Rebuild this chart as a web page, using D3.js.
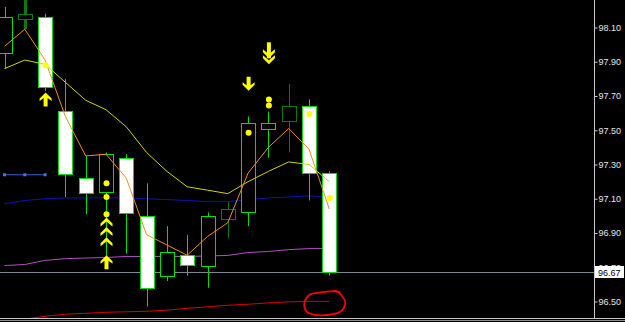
<!DOCTYPE html>
<html>
<head>
<meta charset="utf-8">
<script src="https://d3js.org/d3.v7.min.js"></script>
<style>
  body { margin: 0; background: #000; overflow: hidden; }
  svg { display: block; }
  .axis-label { font-family: 'Liberation Sans', sans-serif; font-size: 9px; fill: #e6e6e6; }
  .price-label { font-family: 'Liberation Sans', sans-serif; font-size: 9px; fill: #000; }
</style>
</head>
<body>
<div id="chart"></div>
<script>
// 17 bars, oldest first
var opens  = [97.95, 98.15, 98.16, 97.61, 97.22, 97.14, 97.34, 97.00, 96.65, 96.77, 96.71, 96.98, 97.02, 97.51, 97.55, 97.64, 97.25];
var highs  = [98.22, 98.30, 98.18, 97.80, 97.35, 97.37, 97.36, 97.19, 96.94, 96.89, 97.02, 97.08, 97.58, 97.61, 97.77, 97.68, 97.26];
var lows   = [97.86, 98.09, 97.73, 97.11, 97.01, 96.76, 96.78, 96.47, 96.62, 96.65, 96.58, 96.87, 96.94, 97.34, 97.37, 97.09, 96.65];
var closes = [98.16, 98.18, 97.75, 97.24, 97.13, 97.36, 97.02, 96.58, 96.79, 96.71, 97.00, 97.04, 97.54, 97.545, 97.64, 97.25, 96.67];

// moving averages, one value per bar
var maFast   = [97.99, 98.09, 97.91, 97.58, 97.35, 97.36, 97.22, 96.89, 96.83, 96.77, 96.88, 96.96, 97.25, 97.40, 97.51, 97.39, 97.04];
var maMid    = [97.86, 97.91, 97.885, 97.78, 97.675, 97.62, 97.52, 97.37, 97.26, 97.17, 97.15, 97.13, 97.20, 97.26, 97.315, 97.30, 97.20];
var maSlow   = [97.07, 97.09, 97.10, 97.105, 97.105, 97.105, 97.105, 97.10, 97.095, 97.09, 97.083, 97.083, 97.095, 97.105, 97.11, 97.117, 97.11];
var maLong   = [96.71, 96.716, 96.74, 96.75, 96.754, 96.757, 96.763, 96.763, 96.763, 96.763, 96.766, 96.769, 96.786, 96.792, 96.803, 96.809, 96.809];
var maLonger = [96.38, 96.397, 96.414, 96.426, 96.431, 96.437, 96.44, 96.443, 96.449, 96.46, 96.469, 96.478, 96.484, 96.492, 96.498, 96.501, 96.501];
var levelLine = [97.24, 97.24, 97.24];   // short dotted level, bars 0..2

// signal markers: [bar, price]
var sigDots     = [[2, 97.88], [5, 97.19], [5, 97.11], [5, 97.01], [12, 97.485], [13, 97.68], [13, 97.645], [15, 97.595], [16, 97.105]];
var upArrows    = [[2, 97.72], [5, 96.77]];
var upChevrons  = [[5, 96.99], [5, 96.935], [5, 96.875]];
var downArrows  = [[12, 97.73]];
var downDoubles = [[13, 97.885]];

var axisTicks = [96.50, 96.70, 96.90, 97.10, 97.30, 97.50, 97.70, 97.90, 98.10];

var W = 625, H = 322, plotRight = 594, plotBottom = 318;

var svg = d3.select("#chart").append("svg").attr("width", W).attr("height", H);
svg.append("rect").attr("width", W).attr("height", H).attr("fill", "#000");

var x = d3.scaleLinear().domain([0, 16]).range([4.5, 329.3]);
var y = d3.scaleLinear().domain([96.50, 98.10]).range([301.5, 27.5]);

svg.append("clipPath").attr("id", "plot")
  .append("rect").attr("width", plotRight).attr("height", plotBottom);

var plot = svg.append("g").attr("clip-path", "url(#plot)");

// bars with a darker outline
var barStyle = { 1: { color: "#0b7a0b", wick: 3 }, 11: { color: "#0b7a0b" }, 14: { color: "#0b7a0b" } };

var bars = opens.map(function(o, i) {
  return { i: i, o: o, h: highs[i], l: lows[i], c: closes[i] };
});

// current price line
var lastY = Math.round(y(closes[closes.length - 1])) + 0.5;
plot.append("line")
  .attr("x1", 0).attr("x2", plotRight)
  .attr("y1", lastY).attr("y2", lastY)
  .attr("stroke", "#7a8898").attr("stroke-width", 1);

var line = d3.line().x(function(d, i) { return x(i); }).y(function(d) { return y(d); });

plot.append("path").datum(maLonger).attr("d", line)
  .attr("fill", "none").attr("stroke", "#d80000").attr("stroke-width", 1);
plot.append("path").datum(maLong).attr("d", line)
  .attr("fill", "none").attr("stroke", "#b050c0").attr("stroke-width", 1);
plot.append("path").datum(maSlow).attr("d", line)
  .attr("fill", "none").attr("stroke", "#0a14b4").attr("stroke-width", 1);

// dotted level with square markers
plot.append("path").datum(levelLine).attr("d", line)
  .attr("fill", "none").attr("stroke", "#3a62d0").attr("stroke-width", 1);
plot.selectAll(".lvl").data(levelLine).enter().append("rect")
  .attr("x", function(d, i) { return x(i) - 1.5; })
  .attr("y", function(d) { return y(d) - 1.5; })
  .attr("width", 3).attr("height", 3).attr("fill", "#4a72e0");

// candles
var cg = plot.selectAll(".bar").data(bars).enter().append("g");
cg.append("line")
  .attr("x1", function(d) { return Math.round(x(d.i)) + 0.5; })
  .attr("x2", function(d) { return Math.round(x(d.i)) + 0.5; })
  .attr("y1", function(d) { return y(d.h); })
  .attr("y2", function(d) { return y(d.l); })
  .attr("stroke", function(d) { return barStyle[d.i] ? barStyle[d.i].color : "#00e000"; })
  .attr("stroke-width", function(d) { return barStyle[d.i] && barStyle[d.i].wick ? barStyle[d.i].wick : 1; });
cg.append("rect")
  .attr("x", function(d) { return Math.round(x(d.i)) - 6.5; })
  .attr("y", function(d) { return Math.round(y(Math.max(d.o, d.c))) + 0.5; })
  .attr("width", 14)
  .attr("height", function(d) { return Math.max(1, Math.round(Math.abs(y(d.o) - y(d.c)))); })
  .attr("fill", function(d) { return d.c < d.o ? "#fff" : "#000"; })
  .attr("stroke", function(d) { return barStyle[d.i] ? barStyle[d.i].color : "#00e000"; })
  .attr("stroke-width", 1);

// faster averages on top of the candles
plot.append("path").datum(maMid).attr("d", line)
  .attr("fill", "none").attr("stroke", "#d2d200").attr("stroke-width", 1);
plot.append("path").datum(maFast).attr("d", line)
  .attr("fill", "none").attr("stroke", "#e8901e").attr("stroke-width", 1);

// signals
var yellow = "#ffff00";
plot.selectAll(".dot").data(sigDots).enter().append("circle")
  .attr("cx", function(d) { return x(d[0]) + 0.5; })
  .attr("cy", function(d) { return y(d[1]); })
  .attr("r", 3).attr("fill", yellow);

var upArrowPath = "M0,0 L6,6 L6,8.5 L2,5.5 L2,14 L-2,14 L-2,5.5 L-6,8.5 L-6,6 Z";
var chevronUp = "M0,0 L6,6 L6,9 L0,4 L-6,9 L-6,6 Z";

plot.selectAll(".uparr").data(upArrows).enter().append("path")
  .attr("transform", function(d) { return "translate(" + (x(d[0]) + 0.5) + "," + y(d[1]) + ")"; })
  .attr("d", upArrowPath).attr("fill", yellow);
plot.selectAll(".upchev").data(upChevrons).enter().append("path")
  .attr("transform", function(d) { return "translate(" + (x(d[0]) + 0.5) + "," + y(d[1]) + ")"; })
  .attr("d", chevronUp).attr("fill", yellow);
plot.selectAll(".dnarr").data(downArrows).enter().append("path")
  .attr("transform", function(d) { return "translate(" + (x(d[0]) + 0.5) + "," + y(d[1]) + ") scale(1,-1)"; })
  .attr("d", upArrowPath).attr("fill", yellow);
var dd = plot.selectAll(".dndbl").data(downDoubles).enter().append("g")
  .attr("transform", function(d) { return "translate(" + (x(d[0]) + 0.5) + "," + y(d[1]) + ") scale(1,-1)"; })
  .attr("fill", yellow);
dd.append("rect").attr("x", -2).attr("y", 6).attr("width", 4).attr("height", 16);
dd.append("path").attr("d", chevronUp);
dd.append("path").attr("d", chevronUp).attr("transform", "translate(0,6)");

// hand drawn ring round the last value of the long average
var ringC = [x(16) - 4, y(96.49)];
var ringPts = [[-20, -3], [-15, -9], [-3, -11], [11, -12], [16, -8], [20, -1], [17, 7], [8, 11], [-7, 12], [-18, 9], [-21, 3]];
plot.append("path")
  .attr("d", d3.line().curve(d3.curveCardinalClosed.tension(0.2))
    .x(function(d) { return ringC[0] + d[0]; })
    .y(function(d) { return ringC[1] + d[1]; })(ringPts))
  .attr("fill", "none").attr("stroke", "#ff0000").attr("stroke-width", 1.8);
plot.append("path")
  .attr("d", "M" + (ringC[0] + 8) + "," + (ringC[1] - 12) + " l7,1")
  .attr("stroke", "#ff0000").attr("stroke-width", 1.8).attr("fill", "none");

// right price axis
svg.append("line").attr("x1", plotRight + 0.5).attr("x2", plotRight + 0.5)
  .attr("y1", 0).attr("y2", plotBottom).attr("stroke", "#c8c8c8");
svg.append("line").attr("x1", 0).attr("x2", W).attr("y1", plotBottom + 0.5).attr("y2", plotBottom + 0.5)
  .attr("stroke", "#c8c8c8");
svg.append("line").attr("x1", 0).attr("x2", W).attr("y1", plotBottom + 2.5).attr("y2", plotBottom + 2.5)
  .attr("stroke", "#8a8a8a");

var axis = d3.axisRight(y).tickValues(axisTicks).tickFormat(d3.format(".2f")).tickSize(3).tickPadding(1);
var ax = svg.append("g").attr("transform", "translate(" + (plotRight + 0.5) + ",0)").call(axis);
ax.select(".domain").remove();
ax.selectAll(".tick line").attr("stroke", "#c8c8c8");
ax.selectAll(".tick text").attr("class", "axis-label").attr("fill", null);

// current price box
var last = closes[closes.length - 1];
svg.append("rect").attr("x", plotRight + 1).attr("y", lastY - 6.5)
  .attr("width", 29).attr("height", 12).attr("fill", "#fff");
svg.append("text").attr("class", "price-label")
  .attr("x", plotRight + 4).attr("y", lastY + 3.5)
  .text(d3.format(".2f")(last));
</script>
</body>
</html>
